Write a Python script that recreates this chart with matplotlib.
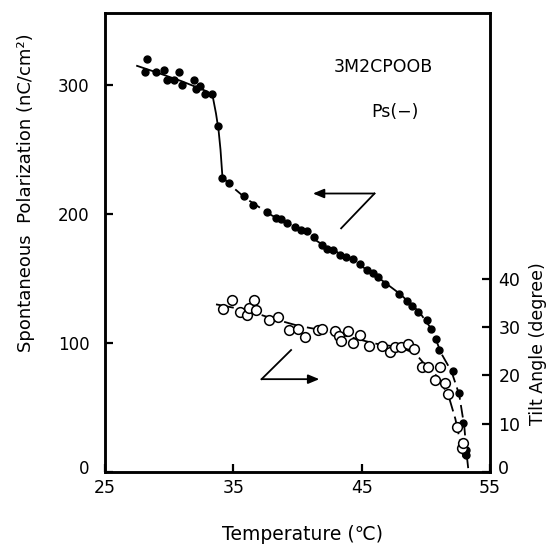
import matplotlib
matplotlib.use("Agg")
import matplotlib.pyplot as plt
from matplotlib.transforms import ScaledTranslation

plt.rcParams['font.family'] = ['DejaVu Sans']

# ---- data ----
ps_temp = [28.3, 28.1, 29.0, 29.6, 29.8, 30.4, 30.8, 31.0, 31.9, 32.1, 32.4, 32.8, 33.3,
           33.8, 34.1, 34.7, 35.8, 36.5, 37.6, 38.3, 38.7, 39.2, 39.8, 40.3, 40.75,
           41.3, 41.9, 42.3, 42.75, 43.3, 43.8, 44.3, 44.9, 45.4, 45.9, 46.3, 46.85,
           47.9, 48.5, 48.9, 49.4, 50.1, 50.4, 50.8, 51.0, 52.1, 52.6, 52.9, 53.1, 53.15]
ps_val = [320, 310, 310, 312, 304, 304, 310, 300, 304, 297, 299, 293, 293,
          268, 228, 224, 214, 207, 202, 197, 196, 193, 190, 188, 187,
          182, 176, 173, 172, 168, 167, 165, 161, 157, 154, 151, 146,
          138, 133, 129, 124, 118, 111, 103, 95, 78, 61, 38, 17, 13]

ps_curve_t = [27.5, 29.0, 31.0, 33.0, 33.4, 33.65, 33.85, 34.0, 34.15, 34.7, 36.0, 38.0,
              40.0, 42.0, 44.0, 46.0, 48.0, 49.5, 50.5, 51.2, 52.0, 52.6, 53.0, 53.2, 53.3]
ps_curve_v = [315, 310, 303, 295, 291, 278, 265, 250, 229, 223, 212, 199,
              189, 176, 166, 153, 138, 124, 110, 92, 78, 60, 35, 12, 3]

tilt_temp = [34.2, 34.9, 35.5, 36.1, 36.25, 36.6, 36.8, 37.8, 38.5, 39.3, 40.0, 40.6,
             41.6, 41.9, 42.9, 43.2, 43.4, 43.9, 44.3, 44.9, 45.6, 46.6, 47.2, 47.6,
             48.1, 48.6, 49.1, 49.7, 50.2, 50.7, 51.1, 51.5, 51.7, 52.4, 52.8, 52.9]
tilt_val = [33.7, 35.7, 33.2, 32.5, 33.9, 35.7, 33.6, 31.4, 32.0, 29.4, 29.6, 28.0,
            29.4, 29.6, 29.1, 28.1, 27.1, 29.1, 26.7, 28.3, 26.0, 26.0, 24.9, 25.8,
            25.8, 26.5, 25.4, 21.8, 21.8, 19.1, 21.8, 18.4, 16.2, 9.3, 4.9, 5.9]

tilt_curve_t = [33.65, 36.0, 38.0, 40.0, 42.0, 44.0, 46.0, 48.0, 49.2, 50.0, 51.0,
                51.8, 52.3, 52.7, 53.0]
tilt_curve_v = [34.7, 33.5, 31.8, 30.3, 29.3, 28.0, 26.6, 25.8, 24.5, 22.0, 19.5,
                15.5, 11.0, 6.0, 2.0]

x_ticks = [25, 35, 45, 55]
left_ticks = [0, 100, 200, 300]
right_ticks = [0, 10, 20, 30, 40]

# ---- figure ----
fig = plt.figure(figsize=(5.5, 5.44), dpi=100)
ax = fig.add_axes([105/550, 1-472/544, (490-105)/550, (472-13)/544])
ax2 = ax.twinx()

ax.set_xlim(25, 55)
ax.set_ylim(0, 356)
ax2.set_ylim(0, 95)

# polarization curve: solid top part, dashed lower part
split = 9
ax.plot(ps_curve_t[:split], ps_curve_v[:split], color='black', lw=1.3, zorder=2)
ax.plot(ps_curve_t[split-1:], ps_curve_v[split-1:], color='black', lw=1.3,
        dashes=(7, 3), zorder=2)
ax.plot(ps_temp, ps_val, 'o', color='black', ms=5, zorder=3)

# tilt angle curve
ax2.plot(tilt_curve_t, tilt_curve_v, color='black', lw=1.3, dashes=(10, 3), zorder=2)
ax2.plot(tilt_temp, tilt_val, 'o', mfc='white', mec='black', mew=1.1, ms=7, zorder=3)

# ticks
ax.set_xticks(x_ticks)
ax.set_yticks(left_ticks)
ax2.set_yticks(right_ticks)
ax.tick_params(axis='y', direction='in', length=6, width=1.6, labelsize=12,
               pad=11)
ax.tick_params(axis='x', direction='in', length=6, width=1.6, labelsize=12.5,
               pad=5)
ax2.tick_params(axis='y', direction='in', length=6, width=1.6, labelsize=12.5, pad=6)
for a in (ax, ax2):
    for s in a.spines.values():
        s.set_linewidth(1.8)

# raise the two "0" labels slightly, as in the reference
up = ScaledTranslation(0, 5/100, fig.dpi_scale_trans)
for t in (ax.yaxis.get_major_ticks()[0], ax2.yaxis.get_major_ticks()[0]):
    for lab in (t.label1, t.label2):
        lab.set_transform(lab.get_transform() + up)

# annotations (arrows pointing to the respective axes)
arr1_head = (41.2, 216)
arr1_corner = (46.0, 216)
arr1_tail = (43.4, 189)
ax.plot([arr1_tail[0], arr1_corner[0]], [arr1_tail[1], arr1_corner[1]],
        color='black', lw=1.3)
ax.annotate('', xy=arr1_head, xytext=arr1_corner,
            arrowprops=dict(arrowstyle='-|>,head_length=0.6,head_width=0.25',
                            color='black', lw=1.3,
                            mutation_scale=11, shrinkA=0, shrinkB=0))

arr2_tail = (39.5, 94.6)
arr2_corner = (37.2, 72)
arr2_head = (41.7, 72)
ax.plot([arr2_tail[0], arr2_corner[0]], [arr2_tail[1], arr2_corner[1]],
        color='black', lw=1.3)
ax.annotate('', xy=arr2_head, xytext=arr2_corner,
            arrowprops=dict(arrowstyle='-|>,head_length=0.6,head_width=0.25',
                            color='black', lw=1.3,
                            mutation_scale=11, shrinkA=0, shrinkB=0))

ax.text(383/550, 1-67/544, '3M2CPOOB', transform=fig.transFigure,
        ha='center', va='center', fontsize=12.5)
ax.text(395/550, 1-112/544, 'Ps(−)', transform=fig.transFigure,
        ha='center', va='center', fontsize=12.5)

# axis labels
fig.text(26/550, 1-193/544, 'Spontaneous  Polarization (nC/cm²)', rotation=90,
         ha='center', va='center', fontsize=13)
fig.text(302/550, 1-535/544, 'Temperature (℃)', ha='center', va='center',
         fontsize=13.5)
fig.text(538/550, 1-344/544, 'Tilt Angle (degree)', rotation=90,
         ha='center', va='center', fontsize=12.5)

fig.savefig('out.png', dpi=100)
